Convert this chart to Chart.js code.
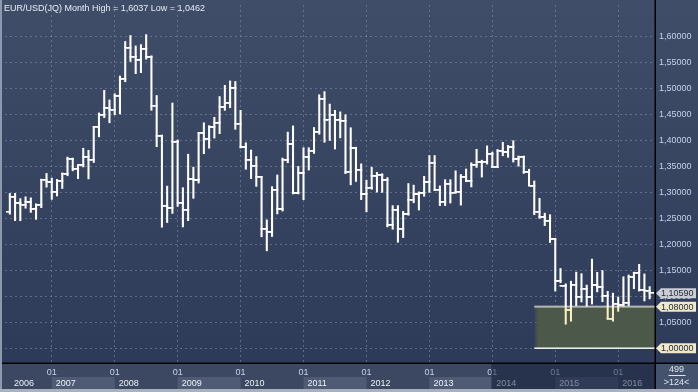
<!DOCTYPE html>
<html>
<head>
<meta charset="utf-8">
<script src="https://cdn.jsdelivr.net/npm/chart.js@4.4.1/dist/chart.umd.min.js"></script>
<style>
    html, body { margin: 0; padding: 0; background: #2c3a58; }
    #wrap { width: 698px; height: 392px; }
</style>
</head>
<body>
<div id="wrap"><canvas id="chartEurUsd" width="698" height="392"></canvas></div>
<script>
// monthly bars, May 2006 .. Jul 2016
const months = [
    "2006-05","2006-06","2006-07","2006-08","2006-09","2006-10","2006-11","2006-12",
    "2007-01","2007-02","2007-03","2007-04","2007-05","2007-06","2007-07","2007-08","2007-09","2007-10","2007-11","2007-12",
    "2008-01","2008-02","2008-03","2008-04","2008-05","2008-06","2008-07","2008-08","2008-09","2008-10","2008-11","2008-12",
    "2009-01","2009-02","2009-03","2009-04","2009-05","2009-06","2009-07","2009-08","2009-09","2009-10","2009-11","2009-12",
    "2010-01","2010-02","2010-03","2010-04","2010-05","2010-06","2010-07","2010-08","2010-09","2010-10","2010-11","2010-12",
    "2011-01","2011-02","2011-03","2011-04","2011-05","2011-06","2011-07","2011-08","2011-09","2011-10","2011-11","2011-12",
    "2012-01","2012-02","2012-03","2012-04","2012-05","2012-06","2012-07","2012-08","2012-09","2012-10","2012-11","2012-12",
    "2013-01","2013-02","2013-03","2013-04","2013-05","2013-06","2013-07","2013-08","2013-09","2013-10","2013-11","2013-12",
    "2014-01","2014-02","2014-03","2014-04","2014-05","2014-06","2014-07","2014-08","2014-09","2014-10","2014-11","2014-12",
    "2015-01","2015-02","2015-03","2015-04","2015-05","2015-06","2015-07","2015-08","2015-09","2015-10","2015-11","2015-12",
    "2016-01","2016-02","2016-03","2016-04","2016-05","2016-06","2016-07",
];

const opens = [
    1.2623, 1.2915, 1.2790, 1.2760, 1.2810, 1.2680, 1.2760, 1.3245,
    1.3195, 1.3010, 1.3225, 1.3355, 1.3650, 1.3450, 1.3525, 1.3680, 1.3625, 1.4265, 1.4490, 1.4630,
    1.4590, 1.4855, 1.5185, 1.5780, 1.5610, 1.5550, 1.5760, 1.5605, 1.4670, 1.4095, 1.2740, 1.2695,
    1.3970, 1.2800, 1.2670, 1.3250, 1.3230, 1.4150, 1.4035, 1.4255, 1.4335, 1.4640, 1.4720, 1.5005,
    1.4325, 1.3865, 1.3625, 1.3510, 1.3295, 1.2295, 1.2235, 1.3050, 1.2675, 1.3630, 1.3925, 1.2985,
    1.3365, 1.3690, 1.3800, 1.4165, 1.4805, 1.4395, 1.4495, 1.4395, 1.4375, 1.3390, 1.3845, 1.3435,
    1.2960, 1.3085, 1.3320, 1.3340, 1.3235, 1.2370, 1.2665, 1.2300, 1.2580, 1.2860, 1.2960, 1.2985,
    1.3195, 1.3575, 1.3055, 1.2820, 1.3170, 1.2995, 1.3010, 1.3300, 1.3220, 1.3525, 1.3580, 1.3590,
    1.3745, 1.3485, 1.3805, 1.3770, 1.3865, 1.3635, 1.3690, 1.3390, 1.3130, 1.2630, 1.2525, 1.2450,
    1.2100, 1.1290, 1.1195, 1.0730, 1.1225, 1.0990, 1.1145, 1.0985, 1.1210, 1.1175, 1.1005, 1.0565,
    1.0860, 1.0830, 1.0870, 1.1380, 1.1455, 1.1130, 1.1105,
];
const highs = [
    1.2980, 1.2980, 1.2880, 1.2915, 1.2895, 1.2780, 1.3255, 1.3365,
    1.3275, 1.3250, 1.3375, 1.3680, 1.3660, 1.3525, 1.3850, 1.3810, 1.4270, 1.4530, 1.4965, 1.4780,
    1.4900, 1.5240, 1.5905, 1.6020, 1.5820, 1.5845, 1.6037, 1.5630, 1.4865, 1.4105, 1.3120, 1.4720,
    1.4010, 1.3090, 1.3735, 1.3485, 1.4155, 1.4340, 1.4285, 1.4445, 1.4845, 1.5060, 1.5145, 1.5135,
    1.4580, 1.3955, 1.3815, 1.3690, 1.3310, 1.2470, 1.3110, 1.3335, 1.3660, 1.4160, 1.4280, 1.3500,
    1.3860, 1.3860, 1.4250, 1.4880, 1.4940, 1.4700, 1.4580, 1.4550, 1.4495, 1.4245, 1.3870, 1.3550,
    1.3235, 1.3485, 1.3385, 1.3360, 1.3285, 1.2745, 1.2745, 1.2635, 1.3170, 1.3140, 1.3010, 1.3310,
    1.3710, 1.3710, 1.3125, 1.3245, 1.3245, 1.3415, 1.3345, 1.3450, 1.3570, 1.3830, 1.3620, 1.3895,
    1.3775, 1.3825, 1.3965, 1.3905, 1.3995, 1.3700, 1.3700, 1.3445, 1.3220, 1.2885, 1.2600, 1.2570,
    1.2105, 1.1535, 1.1240, 1.1290, 1.1465, 1.1435, 1.1215, 1.1715, 1.1460, 1.1495, 1.1095, 1.1060,
    1.0985, 1.1375, 1.1410, 1.1465, 1.1615, 1.1430, 1.1185,
];
const lows = [
    1.2580, 1.2455, 1.2455, 1.2695, 1.2615, 1.2480, 1.2705, 1.3100,
    1.2865, 1.2930, 1.3075, 1.3320, 1.3415, 1.3265, 1.3490, 1.3260, 1.3575, 1.4070, 1.4440, 1.4340,
    1.4495, 1.4510, 1.5130, 1.5520, 1.5285, 1.5305, 1.5565, 1.4580, 1.3880, 1.2330, 1.2420, 1.2595,
    1.2730, 1.2335, 1.2455, 1.2885, 1.3180, 1.3745, 1.3850, 1.4045, 1.4130, 1.4580, 1.4630, 1.4215,
    1.3855, 1.3445, 1.3265, 1.3115, 1.2145, 1.1875, 1.2150, 1.2585, 1.2640, 1.3570, 1.2970, 1.2970,
    1.2860, 1.3430, 1.3750, 1.4120, 1.3965, 1.4000, 1.3835, 1.4050, 1.3360, 1.3145, 1.3210, 1.2860,
    1.2625, 1.3060, 1.3005, 1.3000, 1.2335, 1.2290, 1.2040, 1.2130, 1.2560, 1.2800, 1.2660, 1.2925,
    1.3000, 1.3035, 1.2745, 1.2745, 1.2795, 1.2990, 1.2755, 1.3205, 1.3105, 1.3480, 1.3295, 1.3545,
    1.3475, 1.3475, 1.3705, 1.3675, 1.3585, 1.3505, 1.3365, 1.3130, 1.2570, 1.2500, 1.2360, 1.2035,
    1.1100, 1.1260, 1.0462, 1.0520, 1.0820, 1.0890, 1.0810, 1.0850, 1.1085, 1.0895, 1.0555, 1.0520,
    1.0710, 1.0810, 1.0820, 1.1145, 1.1100, 1.0910, 1.0950,
];
const closes = [
    1.2915, 1.2790, 1.2760, 1.2810, 1.2680, 1.2760, 1.3245, 1.3195,
    1.3010, 1.3225, 1.3355, 1.3650, 1.3450, 1.3525, 1.3680, 1.3625, 1.4265, 1.4490, 1.4630, 1.4590,
    1.4855, 1.5185, 1.5780, 1.5610, 1.5550, 1.5760, 1.5605, 1.4670, 1.4095, 1.2740, 1.2695, 1.3970,
    1.2800, 1.2670, 1.3250, 1.3230, 1.4150, 1.4035, 1.4255, 1.4335, 1.4640, 1.4720, 1.5005, 1.4325,
    1.3865, 1.3625, 1.3510, 1.3295, 1.2295, 1.2235, 1.3050, 1.2675, 1.3630, 1.3925, 1.2985, 1.3365,
    1.3690, 1.3800, 1.4165, 1.4805, 1.4395, 1.4495, 1.4395, 1.4375, 1.3390, 1.3845, 1.3435, 1.2960,
    1.3085, 1.3320, 1.3340, 1.3235, 1.2370, 1.2665, 1.2300, 1.2580, 1.2860, 1.2960, 1.2985, 1.3195,
    1.3575, 1.3055, 1.2820, 1.3170, 1.2995, 1.3010, 1.3300, 1.3220, 1.3525, 1.3580, 1.3590, 1.3745,
    1.3485, 1.3805, 1.3770, 1.3865, 1.3635, 1.3690, 1.3390, 1.3130, 1.2630, 1.2525, 1.2450, 1.2100,
    1.1290, 1.1195, 1.0730, 1.1225, 1.0990, 1.1145, 1.0985, 1.1210, 1.1175, 1.1005, 1.0565, 1.0860,
    1.0830, 1.0870, 1.1380, 1.1455, 1.1130, 1.1105, 1.1059,
];

const years = ["2006","2007","2008","2009","2010","2011","2012","2013","2014","2015","2016"];
const yTicks = [1.00, 1.05, 1.10, 1.15, 1.20, 1.25, 1.30, 1.35, 1.40, 1.45, 1.50, 1.55, 1.60];

// shaded zone (drawn object) and right side price tags
const zoneStart = "2014-09";
const zoneTop = 1.08;
const zoneBottom = 1.00;
const barCount = "499";
const barCountSub = ">124<";

const FONT = "'Liberation Sans', Arial, sans-serif";
const WHITE = "#ffffff";
const CREAM = "#f7efc0";

const monthIndex = (m) => (Number(m.slice(0, 4)) - 2006) * 12 + Number(m.slice(5, 7)) - 1;
const fmt = (v, d) => v.toFixed(d).replace(".", ",");

const makeTick = (color, side) => {
    const c = document.createElement("canvas");
    c.width = 8;
    c.height = 2;
    const g = c.getContext("2d");
    g.fillStyle = color;
    if (side === "left") g.fillRect(0, 0, 5, 1.6);
    else g.fillRect(3, 0, 5, 1.6);
    return c;
};
const openWhite = makeTick(WHITE, "left");
const openCream = makeTick(CREAM, "left");
const closeWhite = makeTick(WHITE, "right");
const closeCream = makeTick(CREAM, "right");

const xs = months.map(monthIndex);
const januaries = years.slice(1).map((y) => monthIndex(y + "-01"));

const backdrop = {
    id: "backdrop",
    beforeDraw(chart) {
        const { ctx, width, height, chartArea, scales } = chart;
        ctx.save();
        const bg = ctx.createLinearGradient(0, 0, 0, chartArea.bottom);
        bg.addColorStop(0, "#404d68");
        bg.addColorStop(1, "#2d3b59");
        ctx.fillStyle = bg;
        ctx.fillRect(0, 0, width, height);

        // bottom time strip
        ctx.fillStyle = "#3c4861";
        ctx.fillRect(0, chartArea.bottom, width, height - chartArea.bottom);

        // year boxes
        ctx.font = "9px " + FONT;
        ctx.textBaseline = "middle";
        years.forEach((y, i) => {
            let x0 = scales.x.getPixelForValue(monthIndex(y + "-01"));
            const x1 = i < years.length - 1
                ? scales.x.getPixelForValue(monthIndex(years[i + 1] + "-01"))
                : chartArea.right;
            x0 = Math.max(x0, chartArea.left);
            if (i % 2 === 1) {
                ctx.fillStyle = "#4f5b75";
                ctx.fillRect(x0, 377, x1 - x0, 12);
            }
            ctx.fillStyle = "#eef2f8";
            const tx = i === 0 ? x0 + 9 : x0 + 4;
            ctx.fillText(y, tx, 383.5);
        });

        // corner box
        ctx.fillStyle = "#45526d";
        ctx.fillRect(chartArea.right, chartArea.bottom, width - chartArea.right, 26);
        ctx.restore();
    },
    beforeDatasetsDraw(chart) {
        const { ctx, chartArea, scales } = chart;
        const x0 = scales.x.getPixelForValue(monthIndex(zoneStart));
        const yT = scales.y.getPixelForValue(zoneTop);
        const yB = scales.y.getPixelForValue(zoneBottom);
        ctx.save();
        const fade = ctx.createLinearGradient(x0, 0, x0 + 4, 0);
        fade.addColorStop(0, "rgba(75,88,74,0.2)");
        fade.addColorStop(1, "rgba(75,88,74,1)");
        ctx.fillStyle = fade;
        ctx.fillRect(x0, yT, chartArea.right - x0, yB - yT);
        ctx.fillStyle = "#b4b8b2";
        ctx.fillRect(x0, yT - 1, chartArea.right - x0, 2);
        ctx.fillStyle = "#f4f4ee";
        ctx.fillRect(x0, yB - 0.75, chartArea.right - x0, 1.5);
        ctx.restore();
    },
    afterDraw(chart) {
        const { ctx, width, height, chartArea, scales } = chart;
        ctx.save();

        // dimmed period on the time strip
        const xd = scales.x.getPixelForValue(monthIndex("2014-01")) - 1;
        ctx.fillStyle = "rgba(18,28,58,0.5)";
        ctx.fillRect(xd, chartArea.bottom, chartArea.right - xd, 26);

        // frame lines
        ctx.fillStyle = "#000000";
        ctx.fillRect(0, chartArea.bottom - 0.5, width, 1.5);
        ctx.fillRect(chartArea.right - 0.5, 0, 1.5, height - 3);
        ctx.fillStyle = "#8e99ae";
        ctx.fillRect(0, 0, 2, height);
        ctx.fillStyle = "#a9b1c0";
        ctx.fillRect(0, height - 3, width, 3);

        // corner counters
        ctx.font = "9px " + FONT;
        ctx.textAlign = "center";
        ctx.textBaseline = "middle";
        ctx.fillStyle = "#dde4ee";
        const cx = (chartArea.right + width) / 2;
        ctx.fillText(barCount, cx, 369.5);
        ctx.fillText(barCountSub, cx, 383);
        ctx.fillRect(cx - 8, 375, 17, 1);

        // price tags
        ctx.textAlign = "left";
        const tag = (v, bg) => {
            const y = scales.y.getPixelForValue(v);
            const x0 = chartArea.right + 1;
            ctx.beginPath();
            ctx.moveTo(x0, y);
            ctx.lineTo(x0 + 5, y - 5);
            ctx.lineTo(width - 2, y - 5);
            ctx.lineTo(width - 2, y + 5);
            ctx.lineTo(x0 + 5, y + 5);
            ctx.closePath();
            ctx.fillStyle = bg;
            ctx.fill();
            ctx.fillStyle = "#262c3a";
            ctx.fillText(fmt(v, 5), x0 + 5, y + 0.5);
        };
        tag(closes[closes.length - 1], "#c9cdd4");
        tag(zoneTop, "#efe8c9");
        tag(zoneBottom, "#efe8c9");

        // title
        const hi = Math.max(...highs);
        const lo = Math.min(...lows);
        ctx.fillStyle = "#e6ecf5";
        ctx.fillText(`EUR/USD(JQ) Month High = ${fmt(hi, 4)} Low = ${fmt(lo, 4)}`, 4, 8.5);
        ctx.restore();
    },
};

const barColor = (c) => {
    const { chart } = c;
    const { ctx, chartArea, scales } = chart;
    if (!chartArea) return WHITE;
    const y0 = scales.y.getPixelForValue(zoneTop);
    const g = ctx.createLinearGradient(0, 0, 0, chart.height);
    const t = Math.min(Math.max(y0 / chart.height, 0), 1);
    g.addColorStop(0, WHITE);
    g.addColorStop(t, WHITE);
    g.addColorStop(t, CREAM);
    g.addColorStop(1, CREAM);
    return g;
};

const inZone = (c) => c.raw && c.raw.y < zoneTop;

const gridDash = "rgba(125,140,172,0.6)";

new Chart(document.getElementById("chartEurUsd"), {
    type: "bar",
    data: {
        datasets: [
            {
                label: "high-low",
                data: xs.map((x, i) => ({ x, y: [lows[i], highs[i]] })),
                backgroundColor: barColor,
                borderWidth: 0,
                barThickness: 1.4,
                order: 2,
            },
            {
                type: "scatter",
                label: "open",
                data: xs.map((x, i) => ({ x, y: opens[i] })),
                pointStyle: (c) => (inZone(c) ? openCream : openWhite),
                pointRadius: 3,
                order: 1,
            },
            {
                type: "scatter",
                label: "close",
                data: xs.map((x, i) => ({ x, y: closes[i] })),
                pointStyle: (c) => (inZone(c) ? closeCream : closeWhite),
                pointRadius: 3,
                order: 0,
            },
        ],
    },
    options: {
        responsive: false,
        animation: false,
        events: [],
        layout: { padding: { left: 2, top: 0, right: 0, bottom: 0 } },
        plugins: {
            legend: { display: false },
            tooltip: { enabled: false },
        },
        scales: {
            x: {
                type: "linear",
                position: "bottom",
                offset: false,
                min: 3.08,
                max: 127.02,
                afterBuildTicks: (s) => {
                    s.ticks = januaries.map((v) => ({ value: v }));
                },
                afterFit: (s) => {
                    s.height = 29;
                    s.paddingLeft = 0;
                    s.paddingRight = 0;
                },
                grid: { color: gridDash, drawTicks: false, offset: false },
                border: { display: false, dash: [2, 3] },
                ticks: {
                    autoSkip: false,
                    maxRotation: 0,
                    padding: 4,
                    color: "#c3d2ea",
                    font: { family: FONT, size: 9 },
                    callback: () => "01",
                },
            },
            y: {
                type: "linear",
                position: "right",
                min: 0.97152,
                max: 1.66076,
                afterBuildTicks: (s) => {
                    s.ticks = yTicks.map((v) => ({ value: v }));
                },
                afterFit: (s) => {
                    s.width = 43;
                    s.paddingTop = 0;
                    s.paddingBottom = 0;
                },
                grid: { color: gridDash, drawTicks: false },
                border: { display: false, dash: [2, 3] },
                ticks: {
                    padding: 4,
                    color: "#c3d2ea",
                    font: { family: FONT, size: 9 },
                    callback: (v) => fmt(v, 5),
                },
            },
        },
    },
    plugins: [backdrop],
});
</script>
</body>
</html>
